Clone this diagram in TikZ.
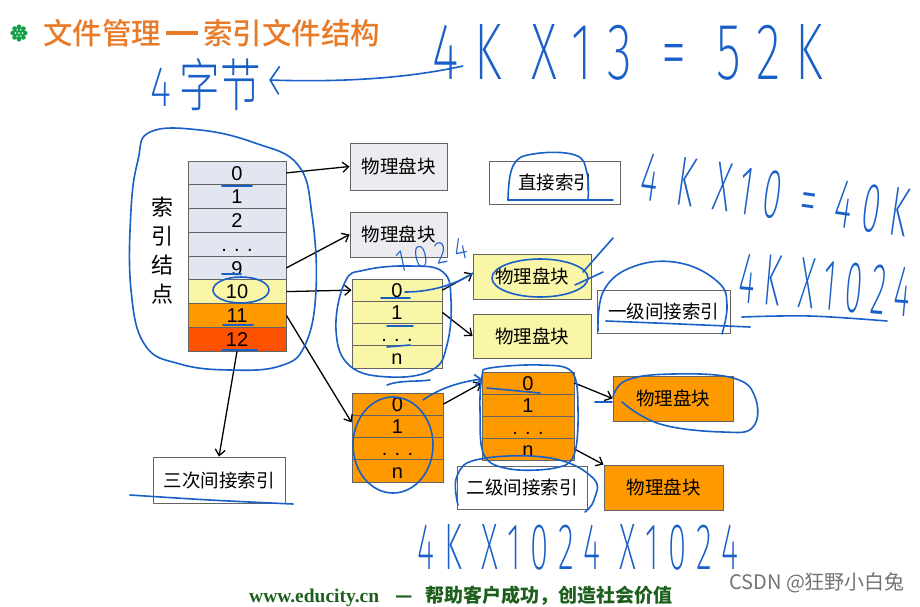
\documentclass[tikz,border=0pt]{standalone}
\usepackage{fontspec}
\setmainfont{Liberation Sans}
\newfontfamily\cjk{Noto Sans CJK SC}
\newfontfamily\serifb{Liberation Serif}
\IfFontExistsTF{Noto Sans CJK SC Medium}{\newfontfamily\cjkm{Noto Sans CJK SC Medium}}{\newfontfamily\cjkm{Noto Sans CJK SC}}
\IfFontExistsTF{Fira Sans ExtraLight}{\newfontfamily\handfont[LetterSpace=30]{Fira Sans ExtraLight}}{%
  \IfFontExistsTF{Fira Sans Light}{\newfontfamily\handfont[LetterSpace=30]{Fira Sans Light}}{\newfontfamily\handfont[LetterSpace=30]{Liberation Sans}}}
\IfFontExistsTF{Noto Sans CJK SC Light}{\newfontfamily\cjkl{Noto Sans CJK SC Light}}{\newfontfamily\cjkl{Noto Sans CJK SC}}
\usetikzlibrary{arrows.meta}
\definecolor{titleor}{RGB}{232,122,40}
\definecolor{icongreen}{RGB}{20,160,70}
\definecolor{cellgray}{RGB}{226,230,240}
\definecolor{boxgray}{RGB}{236,236,240}
\definecolor{yel}{RGB}{250,246,168}
\definecolor{orng}{RGB}{255,153,0}
\definecolor{redo}{RGB}{255,82,0}
\definecolor{bord}{RGB}{100,100,100}
\definecolor{hand}{RGB}{25,95,200}
\definecolor{foot}{RGB}{30,95,30}
\definecolor{csdn}{RGB}{115,115,115}
\begin{document}
\begin{tikzpicture}[x=1pt,y=-1pt,
  cell/.style={draw=bord, line width=0.8pt, inner sep=0pt, text=black,
    font=\fontsize{20}{20}\selectfont, text height=14.3pt, text depth=0pt},
  idx/.style={cell, minimum width=98pt, minimum height=23.75pt},
  yt/.style={cell, fill=yel, minimum width=90pt, minimum height=22.25pt},
  ot/.style={cell, fill=orng, minimum width=91pt, minimum height=22.25pt},
  tt/.style={cell, fill=orng, minimum width=92pt, minimum height=22pt},
  blk/.style={draw=bord, line width=0.9pt, inner sep=0pt, text=black,
    font=\cjk\fontsize{18.5}{19}\selectfont},
  arr/.style={-{Straight Barb[length=6pt,width=10pt]}, line width=1.3pt, black},
  handtxt/.style={text=hand, inner sep=0pt},
  handline/.style={draw=hand, line width=1.6pt, line cap=round, line join=round}]
\useasboundingbox (0,0) rectangle (920,606);
\fill[white] (0,0) rectangle (920,606);

% title icon
\fill[icongreen] (19,33) circle (6);
\foreach \a in {0,45,...,315} \fill[icongreen] (19,33) ++(\a:6.3) circle (2.3);
\foreach \a in {0,60,...,300} \fill[white] (19,33) ++(\a:3.6) circle (0.9);
\fill[white] (19,33) circle (1);
\node[anchor=west, inner sep=0pt, text=titleor, font=\cjkm\fontsize{29.5}{30}\selectfont] (title) at (43,33)
  {文件管理\hspace{5pt}\raisebox{9.5pt}{\rule{32pt}{3.8pt}}\hspace{5pt}索引文件结构};

% index node
\node[font=\cjk\fontsize{22}{29}\selectfont, align=center, inner sep=0pt] (sy) at (162,251) {索\\引\\结\\点};
\node[idx, fill=cellgray] (r0) at (237,172.9) {0};
\node[idx, fill=cellgray] (r1) at (237,196.6) {1};
\node[idx, fill=cellgray] (r2) at (237,220.4) {2};
\node[idx, fill=cellgray] (r3) at (237,244.1) {. . .};
\node[idx, fill=cellgray] (r4) at (237,267.9) {9};
\node[idx, fill=yel] (r5) at (237,291.6) {10};
\node[idx, fill=orng] (r6) at (237,315.4) {11};
\node[idx, fill=redo] (r7) at (237,339.1) {12};

% physical blocks (direct)
\node[blk, fill=boxgray, minimum width=97pt, minimum height=47pt] (pb1) at (398.5,166.5) {物理盘块};
\node[blk, fill=boxgray, minimum width=97pt, minimum height=45pt] (pb2) at (398.5,234.5) {物理盘块};
\node[blk, fill=white, minimum width=131pt, minimum height=43pt] (zj) at (555,182.5) {直接索引};

% single indirect
\node[yt] (y0) at (397,290.1) {0};
\node[yt] (y1) at (397,312.4) {1};
\node[yt] (y2) at (397,334.6) {. . .};
\node[yt] (y3) at (397,356.9) {n};
\node[blk, fill=yel, minimum width=118pt, minimum height=45pt] (ypa) at (532,276.5) {物理盘块};
\node[blk, fill=yel, minimum width=118pt, minimum height=44pt] (ypb) at (532,336) {物理盘块};
\node[blk, fill=white, minimum width=133pt, minimum height=43pt] (yj) at (663.5,311.5) {一级间接索引};

% double indirect
\node[ot] (o0) at (397.5,404.1) {0};
\node[ot] (o1) at (397.5,426.4) {1};
\node[ot] (o2) at (397.5,448.6) {. . .};
\node[ot] (o3) at (397.5,470.9) {n};
\node[tt] (t0) at (528,383) {0};
\node[tt] (t1) at (528,405) {1};
\node[tt] (t2) at (528,427) {. . .};
\node[tt] (t3) at (528,449) {n};
\node[blk, fill=orng, minimum width=120pt, minimum height=45pt] (opc) at (673,398.5) {物理盘块};
\node[blk, fill=orng, minimum width=119pt, minimum height=45pt] (opd) at (663.5,487.5) {物理盘块};
\node[blk, fill=white, minimum width=130pt, minimum height=43pt] (ej) at (522,487.5) {二级间接索引};

% triple indirect
\node[blk, fill=white, minimum width=132pt, minimum height=46pt] (sc) at (219,480) {三次间接索引};

% connectors
\draw[arr] (r0.east) -- (pb1.west);
\draw[arr] (r4.east) -- (pb2.west);
\draw[arr] (r5.east) -- (y0.west);
\draw[arr] (r6.east) -- ([yshift=4pt]o1.west);
\draw[arr] (r7.south) -- (sc.north);
\draw[arr] (y0.east) -- ([yshift=3pt]ypa.west);
\draw[arr] (y1.east) -- (ypb.west);
\draw[arr] (o0.east) -- (t0.west);
\draw[arr] (t0.east) -- (opc.west);
\draw[arr] (t3.east) -- (opd.north west);

% footer
\node[anchor=base west, inner sep=0pt, text=foot, font=\serifb\bfseries\fontsize{19.5}{20}\selectfont] (f1) at (249,602) {www.educity.cn};
\node[anchor=base, inner sep=0pt, text=foot, font=\cjk\bfseries\fontsize{19}{20}\selectfont] (f2) at (404,602) {—};
\node[anchor=base west, inner sep=0pt, text=foot, font=\cjk\bfseries\fontsize{19}{20}\selectfont] (f3) at (425,602) {帮助客户成功，创造社会价值};
\node[anchor=west, inner sep=0pt, text=csdn, font=\cjk\fontsize{20}{20}\selectfont] (wm) at (729,583) {CSDN @狂野小白兔};

% handwriting
\node[handtxt] (h1) at (628,52) {\resizebox{390pt}{55pt}{\handfont 4K X13 = 52K}};
\node[handtxt] (h2) at (206,85) {\resizebox{110pt}{48pt}{{\handfont 4}\hspace{2pt}{\cjkl 字节}}};
\draw[handline, -{Straight Barb[length=9pt,width=28pt]}] ([xshift=30pt,yshift=-14pt]h1.west) .. controls (400,80) and (330,82) .. ([xshift=8pt,yshift=5pt]h2.east);
\node[handtxt, rotate=-8] (h3) at (775,195) {\resizebox{270pt}{48pt}{\handfont 4 K X10 = 40K}};
\node[handtxt, rotate=12] (h4) at (432,255) {\resizebox{72pt}{21pt}{\handfont 1024}};
\node[handtxt, rotate=-5] (h5) at (825,285) {\resizebox{172pt}{50pt}{\handfont 4K X1024}};
\node[handtxt] (h6) at (578,547) {\resizebox{320pt}{45pt}{\handfont 4K X1024 X1024}};

% handwritten loops and strokes
\draw[handline] plot[smooth cycle, tension=0.7] coordinates {(150,132) (200,130) (255,143) (298,165) (312,215) (316,290) (305,345) (280,366) (230,370) (180,364) (145,345) (131,290) (131,210) (138,160)};
\draw[handline] (241,290) ellipse (28 and 13);
\draw[handline] plot[smooth cycle, tension=0.7] coordinates {(345,282) (365,270) (410,266) (443,272) (451,300) (447,345) (432,370) (390,377) (350,366) (336,330)};
\draw[handline] (540,278) ellipse (48 and 19);
\draw[handline] (405,292) .. controls (430,292) and (455,285) .. (473,273);
\draw[handline] (613,238) -- (583,272);
\draw[handline] (603,272) -- (575,285);
\draw[handline] plot[smooth, tension=0.7] coordinates {(598,331) (604,290) (635,266) (680,263) (718,282) (727,305) (722,334)};
\draw[handline] plot[smooth, tension=0.6] coordinates {(606,321) (680,324) (750,327)};
\draw[handline] plot[smooth, tension=0.6] coordinates {(742,317) (810,316) (887,321)};
\draw[handline] plot[smooth, tension=0.7] coordinates {(508,200) (513,166) (533,154) (575,155) (587,173) (588,200)};
\draw[handline] (508,200) -- (613,200);
\draw[handline] (222,186) -- (252,186);
\draw[handline] (222,274) -- (241,274);
\draw[handline] (223,325) -- (253,325);
\draw[handline] (222,350) -- (257,350);
\draw[handline] (381,298) -- (410,298);
\draw[handline] (387,326) -- (413,326);
\draw[handline] (387,347) -- (410,345);
\draw[handline] (393,445) ellipse (40 and 48);
\draw[handline] (387,385) .. controls (400,380) and (415,382) .. (430,380);
\draw[handline, -{Straight Barb[length=6pt,width=11pt]}] (423,400) .. controls (440,388) and (460,382) .. (482,379);
\draw[handline] plot[smooth cycle, tension=0.6] coordinates {(490,368) (540,365) (572,372) (578,410) (574,455) (555,468) (510,469) (484,455) (480,410) (482,376)};
\draw[handline] (487,388) -- (540,393);
\draw[handline] plot[smooth, tension=0.7] coordinates {(613,397) (627,380) (673,374) (733,378) (755,397) (753,427) (723,432) (660,424) (622,402)};
\draw[handline] (595,402) -- (612,402);
\draw[handline] plot[smooth, tension=0.7] coordinates {(458,505) (457,476) (480,459) (550,458) (593,478) (594,500) (585,512)};
\draw[handline] plot[smooth, tension=0.6] coordinates {(130,495) (210,500) (293,504)};
\end{tikzpicture}
\end{document}
